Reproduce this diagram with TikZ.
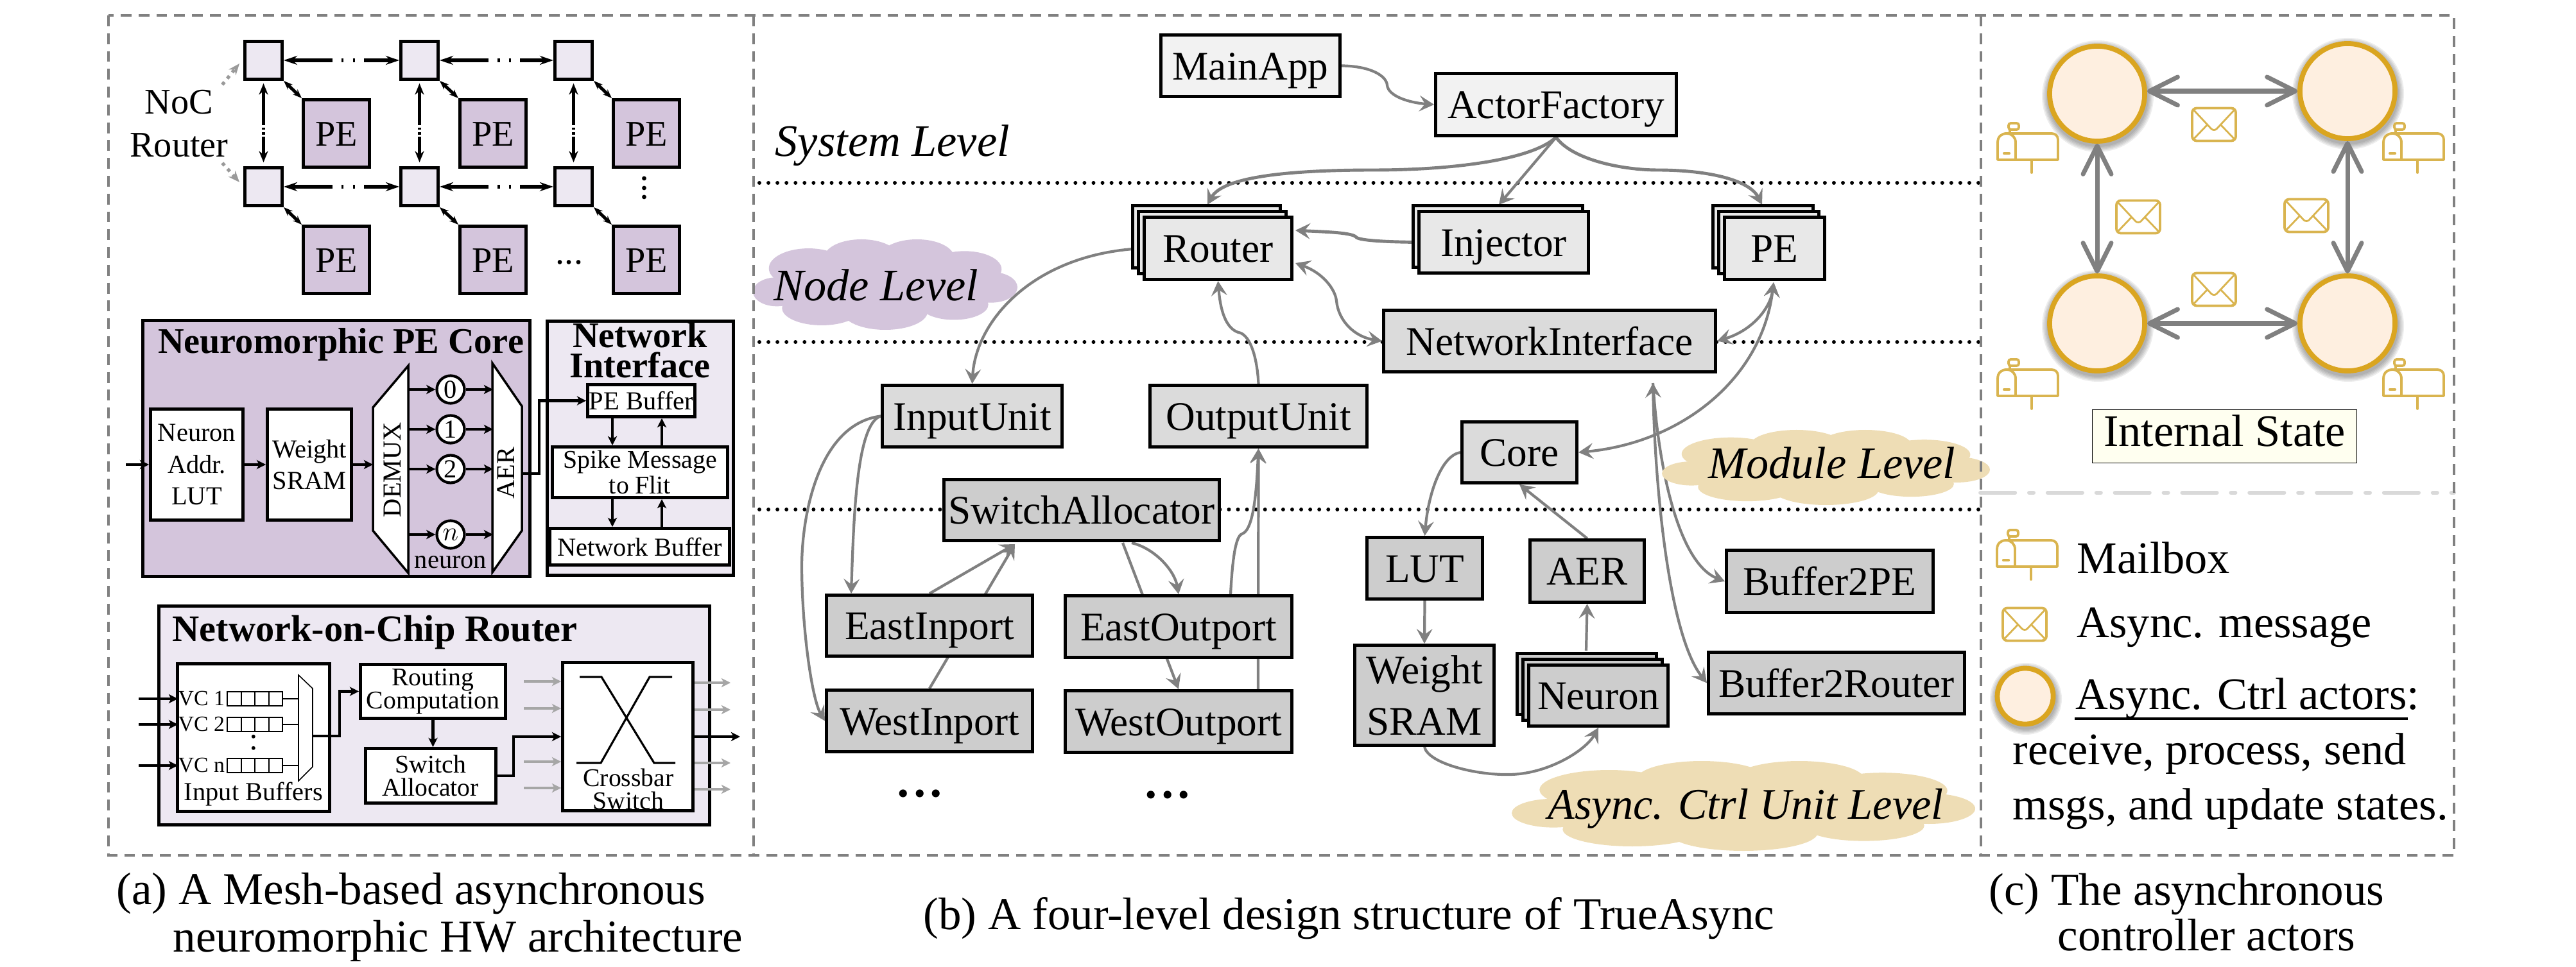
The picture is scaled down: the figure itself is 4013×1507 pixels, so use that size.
\documentclass[tikz,border=0pt]{standalone}
\usepackage{fontspec}
\setmainfont{Liberation Serif}
\usetikzlibrary{arrows.meta,calc,shadows}
\definecolor{pePurple}{HTML}{D4C5DC}
\definecolor{lightPurple}{HTML}{EDE8F2}
\definecolor{sysGray}{HTML}{F2F2F2}
\definecolor{nodeGray}{HTML}{E8E8E8}
\definecolor{modGray}{HTML}{DBDBDB}
\definecolor{unitGray}{HTML}{CDCDCD}
\definecolor{flowGray}{HTML}{808080}
\definecolor{cloudTan}{HTML}{EEDDB5}
\definecolor{actorGold}{HTML}{DAA520}
\definecolor{actorFill}{HTML}{FEEFE0}
\definecolor{iconGold}{HTML}{D9B44F}
\definecolor{stateFill}{HTML}{FFFFF0}
\pgfdeclarelayer{backdrop}
\pgfsetlayers{backdrop,main}
\tikzset{
  spot/.style args={#1,#2,#3,#4}{at={({(#1+#3)/2},{(#2+#4)/2})},minimum width={(#3-#1-5)*.01cm},minimum height={(#4-#2-5)*.01cm}},
  txtA/.style={font=\fontsize{11.5pt}{14pt}\selectfont,inner sep=0pt},
  txtS/.style={font=\fontsize{11.3pt}{10.2pt}\selectfont,inner sep=0pt},
  txtB/.style={font=\fontsize{16pt}{19pt}\selectfont,inner sep=0pt},
  txtC/.style={font=\fontsize{18pt}{22.8pt}\selectfont,inner sep=0pt},
  txtD/.style={font=\fontsize{20pt}{24pt}\selectfont,inner sep=0pt},
  txtE/.style={font=\fontsize{20pt}{24pt}\selectfont\itshape,inner sep=0pt,anchor=base west},
  txtF/.style={font=\fontsize{20.2pt}{24pt}\selectfont,inner sep=0pt,anchor=base west},
  oneline/.style={text height=#1,text depth=0pt},
  oneline/.default=12.4pt,
  archbox/.style={draw=black,line width=1.4pt,inner sep=0pt,align=center},
  levelbox/.style={archbox,txtC,oneline},
  twobox/.style={copy shadow={shadow xshift=-2.6pt,shadow yshift=2.6pt,draw=black,line width=1.4pt,fill=nodeGray}},
  threebox/.style={double copy shadow={shadow xshift=-2.6pt,shadow yshift=2.6pt,draw=black,line width=1.4pt,fill=#1}},
  busarrow/.style={line width=1.6pt,{Stealth[length=6pt,width=4pt]}-{Stealth[length=6pt,width=4pt]},dash pattern=on 18pt off 4pt on 1pt off 4pt on 1pt off 4pt},
  busvert/.style={line width=1.5pt,{Stealth[length=5pt,width=4pt]}-{Stealth[length=5pt,width=4pt]},dash pattern=on 15.5pt off 1pt on 1pt off 1.2pt on 1pt off 1pt},
  linkarrow/.style={line width=1.4pt,{Stealth[length=4pt,width=3pt]}-{Stealth[length=4pt,width=3pt]}},
  blackarrow/.style={line width=1.2pt,-{Stealth[length=4pt,width=4pt,inset=1pt]}},
  grayarrow/.style={draw=black!35,line width=1.1pt,-{Stealth[length=4pt,width=4pt,inset=1pt]}},
  flowarrow/.style={draw=flowGray,line width=1.2pt,-{Stealth[length=6.5pt,width=7pt,inset=2.5pt]}},
  flowboth/.style={draw=flowGray,line width=1.2pt,{Stealth[length=6.5pt,width=7pt,inset=2.5pt]}-{Stealth[length=6.5pt,width=7pt,inset=2.5pt]}},
  levelline/.style={line width=1.7pt,line cap=round,dash pattern=on 0pt off 4pt},
  panelframe/.style={draw=flowGray,line width=1pt,dash pattern=on 4.8pt off 3.1pt},
  actor/.style={circle,draw=actorGold,fill=actorFill,line width=2.2pt,inner sep=0pt,minimum size=1.48cm},
  msgarrow/.style={draw=flowGray,line width=2pt,{Straight Barb[length=12.5pt,width=12.5pt,round]}-{Straight Barb[length=12.5pt,width=12.5pt,round]}},
  iconline/.style={draw=iconGold,line width=1.1pt},
  mailbox/.pic={
    \draw[iconline,line join=round] (0,57) -- (0,30) .. controls (0,21) and (6,16) .. (14,16) -- (84,16) .. controls (90,16) and (94,20) .. (94,26) -- (94,57) -- cycle;
    \draw[iconline] (28,57) -- (28,30) .. controls (28,22) and (22,16) .. (14,16);
    \draw[iconline,line cap=round] (53,57) -- (53,77);
    \draw[iconline,rounded corners=1pt] (17,0) rectangle (33,10);
    \draw[iconline] (19,10) -- (19,16);
    \draw[iconline,line width=1.2pt,line cap=round] (10,47) -- (18,47);
  },
  mailenv/.pic={
    \draw[iconline,rounded corners=2pt] (-34,-25.5) rectangle (34,25.5);
    \draw[iconline,line width=.8pt] (-33,-24) -- (-4,7) .. controls (-2,9) and (2,9) .. (4,7) -- (33,-24);
    \draw[iconline,line width=.8pt] (-33,24) -- (-10,0);
    \draw[iconline,line width=.8pt] (33,24) -- (10,0);
  },
}
% puffs of a level cloud: colour, left, top, width, height
\newcommand{\levelcloud}[5]{
  \foreach \cx/\cy/\rx/\ry in {.5/.5/.42/.35,.21/.32/.15/.22,.41/.2/.14/.2,.62/.2/.14/.2,.8/.33/.14/.2,.9/.53/.1/.17,.76/.72/.13/.17,.5/.8/.16/.2,.26/.76/.15/.19,.09/.58/.09/.16}
    \fill[#1] ({#2+\cx*#4},{#3+\cy*#5}) ellipse [x radius={\rx*#4*.01cm},y radius={\ry*#5*.01cm}];
}

\begin{document}
\begin{tikzpicture}[x=.01cm,y=-.01cm]
\useasboundingbox (0,0) rectangle (4013,1507);

% ---- mesh of routers and PEs
\node[txtB,align=center] (NocLabel) at (279,193) {NoC\\Router};
\foreach \c/\rx/\px in {1/379/470,2/622/714,3/862/953}{
  \foreach \r/\ry/\py in {1/62/153,2/259/350}{
    \node[archbox,fill=lightPurple,spot={\rx,\ry,\rx+63,\ry+64}] (R\c\r) {};
    \node[archbox,txtB,oneline=11pt,fill=pePurple,spot={\px,\py,\px+108,\py+110}] (PE\c\r) {PE};
    \draw[linkarrow] (R\c\r.south east) -- (PE\c\r.north west);
  }
  \draw[busvert] (R\c1.south) ++(0,4) -- ($(R\c2.north)+(0,-6)$);
}
\foreach \r in {1,2}{
  \draw[busarrow] (R1\r.east) -- (R1\r.east -| R2\r.west);
  \draw[busarrow] (R2\r.east) -- (R2\r.east -| R3\r.west);
}
\draw[flowGray!80,line width=1.5pt,dotted,-{Stealth[length=5pt,width=4pt]}] (NocLabel.north east) ++(-10,-8) coordinate (nocA) -- ($(R11.west)+(-6,5)$);
\draw[flowGray!80,line width=1.5pt,dotted,-{Stealth[length=5pt,width=4pt]}] (NocLabel.south east) ++(-10,8) coordinate (nocB) -- ($(R12.west)+(-6,-7)$);
\node[txtB,rotate=90] (VDots) at (1004,293) {...};
\node[txtB] (HDots) at (887,409) {...};

% ---- neuromorphic PE core
\node[archbox,fill=pePurple,spot={220,497,828,901}] (CoreBox) {};
\node[font=\fontsize{16pt}{19pt}\selectfont\bfseries,inner sep=0pt] (CoreTitle) at (531,537) {Neuromorphic PE Core};
\node[archbox,txtA,fill=white,spot={232,635,381,813}] (NeuronLUT) {Neuron\\Addr.\\LUT};
\node[archbox,txtA,fill=white,spot={414,635,550,813}] (WeightBox) {Weight\\SRAM};
\draw[line width=1pt,fill=white] (581,635) -- (636,570) -- (636,893) -- (581,827) -- cycle;
\node[txtA,rotate=90] (DemuxLabel) at (611,732) {DEMUX};
\draw[line width=1pt,fill=white] (767,566) -- (813,633) -- (813,827) -- (767,892) -- cycle;
\node[txtA,rotate=90] (AerLabel) at (788,737) {AER};
\foreach \k/\y/\lbl in {0/607/0,1/669/1,2/731/2,n/833/$n$}{
  \node[circle,draw=black,line width=1.2pt,fill=white,txtA,inner sep=0pt,minimum size=.43cm] (N\k) at (702,\y) {\lbl};
  \coordinate (Dm\k) at (636,\y);
  \coordinate (Ae\k) at (768,\y);
  \draw[blackarrow] (Dm\k) -- (N\k);
  \draw[blackarrow] (N\k) -- (Ae\k);
}
\node[txtA] (NeuronLabel) at (702,876) {neuron};
\coordinate (CoreIn) at (196,724);
\coordinate (DemuxIn) at (581,724);
\coordinate (AerOut) at (813,738);
\draw[blackarrow] (CoreIn) -- (NeuronLUT);
\draw[blackarrow] (NeuronLUT) -- (WeightBox);
\draw[blackarrow] (WeightBox) -- (DemuxIn);

% ---- network interface
\node[archbox,fill=lightPurple,spot={850,498,1145,899}] (NiBox) {};
\node[font=\fontsize{16pt}{13.4pt}\selectfont\bfseries,inner sep=0pt,align=center] (NiTitle) at (997,546) {Network\\Interface};
\node[archbox,txtA,oneline=8pt,fill=white,spot={913,597,1085,652}] (PEBuffer) {PE Buffer};
\node[archbox,txtS,fill=white,spot={858,694,1136,778}] (SpikeBox) {Spike Message\\to Flit};
\node[archbox,txtA,oneline=8pt,fill=white,spot={854,821,1139,883}] (NetBuffer) {Network Buffer};
\draw[blackarrow] (AerOut) -- (840,738) |- (PEBuffer.west);
\draw[blackarrow] (PEBuffer.south -| 954,0) -- (SpikeBox.north -| 954,0);
\draw[blackarrow] (SpikeBox.north -| 1031,0) -- (PEBuffer.south -| 1031,0);
\draw[blackarrow] (SpikeBox.south -| 954,0) -- (NetBuffer.north -| 954,0);
\draw[blackarrow] (NetBuffer.north -| 1031,0) -- (SpikeBox.south -| 1031,0);

% ---- NoC router
\node[archbox,fill=lightPurple,spot={245,942,1108,1288}] (NocBox) {};
\node[font=\fontsize{16.6pt}{19pt}\selectfont\bfseries,inner sep=0pt] (NocTitle) at (584,985) {Network-on-Chip Router};
\node[archbox,fill=white,spot={274,1032,516,1267}] (InputBox) {};
\foreach \k/\y/\lbl in {1/1078/VC 1,2/1118/VC 2,3/1182/VC n}{
  \node[font=\fontsize{9.6pt}{11pt}\selectfont,inner sep=0pt,anchor=west] (VC\k) at (277,\y+11) {\lbl};
  \coordinate (VCin\k) at (216,\y+11);
  \draw[blackarrow] (VCin\k) -- (VC\k.west);
  \draw[line width=.45pt] (354,\y) rectangle (440,\y+22);
  \foreach \t in {376,397,419} \draw[line width=.45pt] (\t,\y) -- (\t,\y+22);
  \draw[line width=.45pt] (440,\y+11) -- (465,\y+11);
}
\node[font=\fontsize{14pt}{16pt}\selectfont,inner sep=0pt] (VcDots) at (395,1157) {:};
\draw[line width=.45pt,fill=white] (465,1052) -- (487,1073) -- (487,1195) -- (465,1217) -- cycle;
\coordinate (MuxOut) at (487,1147);
\node[txtA] (InputLabel) at (395,1238) {Input Buffers};
\node[archbox,txtS,fill=white,spot={559,1033,790,1122}] (Routing) {Routing\\Computation};
\node[archbox,txtS,fill=white,spot={567,1164,775,1254}] (Switch) {Switch\\Allocator};
\node[archbox,fill=white,spot={874,1030,1082,1266}] (Crossbar) {};
\draw[line width=.9pt] (903,1055) -- (937,1055) -- (1019,1189) -- (1052,1189);
\draw[line width=.9pt] (1047,1055) -- (1012,1055) -- (936,1189) -- (898,1189);
\node[txtS,align=center] (CrossbarLabel) at (979,1230) {Crossbar\\Switch};
\draw[blackarrow] (MuxOut) -- (529,1147) |- (Routing.west);
\draw[blackarrow] (Routing.south) -- (Switch.north -| Routing.south);
\draw[blackarrow] (Switch.east) -- ++(25,0) |- (Crossbar.west);
\foreach \k/\y in {1/1062,2/1104,3/1187,4/1228}{
  \coordinate (XbIn\k) at (816,\y);
  \coordinate (XbOut\k) at (1138,\y+2);
  \draw[grayarrow] (XbIn\k) -- (XbIn\k -| Crossbar.west);
  \draw[grayarrow] (XbOut\k -| Crossbar.east) -- (XbOut\k);
}
\coordinate (XbOut) at (1153,1148);
\draw[blackarrow] (Crossbar.east) -- (XbOut);

% ---- level separators and clouds
\begin{pgfonlayer}{backdrop}
\foreach \y in {285,533,794} \draw[levelline] (1183,\y) -- (3083,\y);
\end{pgfonlayer}
\levelcloud{pePurple}{1173}{373}{412}{141}
\levelcloud{cloudTan}{2589}{670}{511}{117}
\levelcloud{cloudTan}{2355}{1186}{722}{140}
\node[txtE] (SysLevel) at (1207,244) {System Level};
\node[txtE] (NodeLevel) at (1205,469) {Node Level};
\node[txtE] (ModLevel) at (2661,746) {Module Level};
\node[txtE,font=\fontsize{19.4pt}{24pt}\selectfont\itshape] (UnitLevel) at (2411,1276) {Async. Ctrl Unit Level};

% ---- system and node level
\node[levelbox,fill=sysGray,spot={1806,52,2090,153}] (MainApp) {MainApp};
\node[levelbox,fill=sysGray,spot={2234,112,2614,214}] (ActorFactory) {ActorFactory};
\node[levelbox,fill=nodeGray,threebox=nodeGray,spot={1780,336,2015,438}] (Router) {Router};
\node[levelbox,fill=nodeGray,twobox,spot={2208,327,2477,428}] (Injector) {Injector};
\node[levelbox,fill=nodeGray,threebox=nodeGray,spot={2684,336,2845,438}] (PEStack) {PE};
\node[levelbox,fill=modGray,spot={2153,481,2675,582}] (NetIf) {NetworkInterface};

% ---- module level
\node[levelbox,fill=modGray,spot={1372,598,1657,699}] (InputUnit) {InputUnit};
\node[levelbox,fill=modGray,spot={1789,598,2132,699}] (OutputUnit) {OutputUnit};
\node[levelbox,fill=modGray,spot={2275,655,2459,755}] (CoreNode) {Core};

% ---- unit level
\node[levelbox,fill=unitGray,spot={1468,745,1902,845}] (SwitchAlloc) {SwitchAllocator};
\node[levelbox,fill=unitGray,spot={1285,925,1611,1025}] (EastIn) {EastInport};
\node[levelbox,fill=unitGray,spot={1285,1073,1611,1174}] (WestIn) {WestInport};
\node[levelbox,fill=unitGray,spot={1657,926,2015,1027}] (EastOut) {EastOutport};
\node[levelbox,fill=unitGray,spot={1657,1074,2015,1175}] (WestOut) {WestOutport};
\node[levelbox,fill=unitGray,spot={2127,835,2312,936}] (LUT) {LUT};
\node[levelbox,fill=unitGray,spot={2381,839,2564,941}] (AER) {AER};
\node[archbox,txtC,fill=unitGray,spot={2108,1003,2330,1164}] (SRAM) {Weight\\SRAM};
\node[levelbox,fill=unitGray,threebox=unitGray,spot={2379,1034,2601,1134}] (Neuron) {Neuron};
\node[levelbox,fill=unitGray,spot={2687,855,3014,957}] (BufferPE) {Buffer2PE};
\node[levelbox,fill=unitGray,spot={2659,1014,3063,1115}] (BufferRouter) {Buffer2Router};
\node[font=\fontsize{29pt}{30pt}\selectfont,inner sep=0pt] (DotsA) at (1433,1237) {...};
\node[font=\fontsize{29pt}{30pt}\selectfont,inner sep=0pt] (DotsB) at (1819,1239) {...};

% ---- connectors, behind the boxes
\coordinate (RouterTop) at (1881,319);
\coordinate (InjTop) at (2335,319);
\coordinate (PETop) at (2745,319);
\coordinate (RouterInA) at (2018,359);
\coordinate (RouterInB) at (2018,410);
\coordinate (PEBottom) at (2763,440);
\coordinate (NetIfBelow) at (2575,597);
\coordinate (EastOutTop) at (1917,926);
\coordinate (SwitchIn) at (1581,848);
\coordinate (SwitchOutA) at (1763,846);
\coordinate (SwitchOutB) at (1749,846);
\coordinate (WestOutTop) at (1960,1074);
\coordinate (NeuronTop) at (2471,1014);
\begin{pgfonlayer}{backdrop}
\draw[flowarrow] (MainApp.east) .. controls (2135,103) and (2160,118) .. (2161,133) .. controls (2163,150) and (2195,160) .. (ActorFactory.west);
\draw[flowarrow,line width=1.4pt] (ActorFactory.south) .. controls (2385,250) and (2260,265) .. (2140,265) .. controls (2010,265) and (1905,275) .. (RouterTop);
\draw[flowarrow] (ActorFactory.south) -- (InjTop);
\draw[flowarrow,line width=1.4pt] (ActorFactory.south) .. controls (2450,250) and (2530,265) .. (2582,265) .. controls (2660,265) and (2725,280) .. (PETop);
\draw[flowarrow,line width=1.4pt] (Injector.west) .. controls (2160,377) and (2115,375) .. (2112,369) .. controls (2105,362) and (2055,361) .. (RouterInA);
\draw[flowboth] (RouterInB) .. controls (2060,425) and (2080,450) .. (2082,469) .. controls (2085,500) and (2110,525) .. (NetIf.west);
\draw[flowboth] (PEBottom) .. controls (2758,480) and (2730,515) .. (NetIf.east);
\draw[flowboth] (PEBottom) .. controls (2745,590) and (2620,690) .. (CoreNode.east);
\draw[flowboth] (NetIfBelow) .. controls (2578,760) and (2600,990) .. (BufferRouter.west);
\draw[flowarrow] (NetIfBelow) .. controls (2585,750) and (2620,880) .. (BufferPE.west);
\draw[flowarrow] (Router.west) .. controls (1610,395) and (1520,500) .. (InputUnit.north);
\draw[flowarrow] (OutputUnit.north) .. controls (1958,550) and (1945,520) .. (1929,518) .. controls (1905,510) and (1900,470) .. (Router.south);
\draw[flowarrow] (InputUnit.west) .. controls (1335,660) and (1330,800) .. (EastIn.north -| 1326,0);
\draw[flowarrow] (InputUnit.west) .. controls (1280,660) and (1250,790) .. (1249,880) .. controls (1249,980) and (1265,1090) .. (WestIn.west);
\draw[flowarrow] (EastIn.north) -- (SwitchIn);
\draw[flowarrow] (WestIn.north) -- (SwitchIn);
\draw[flowarrow] (SwitchOutA) .. controls (1800,855) and (1830,890) .. (EastOut.north);
\draw[flowarrow] (SwitchOutB) -- (WestOut.north);
\draw[flowarrow] (EastOutTop) .. controls (1920,870) and (1925,835) .. (1935,832) .. controls (1955,825) and (1958,750) .. (OutputUnit.south);
\draw[flowarrow] (WestOutTop) -- (OutputUnit.south);
\draw[flowarrow] (CoreNode.west) .. controls (2245,710) and (2225,770) .. (LUT.north);
\draw[flowarrow] (AER.north) -- (CoreNode.south);
\draw[flowarrow] (LUT.south) -- (SRAM.north);
\draw[flowarrow] (NeuronTop) -- (AER.south);
\draw[flowarrow] (SRAM.south) .. controls (2225,1190) and (2300,1208) .. (2350,1207) .. controls (2410,1207) and (2470,1170) .. (Neuron.south);
\end{pgfonlayer}

% ---- actors
\node[actor] (TL) at (3267,146) {};
\node[actor] (TR) at (3657,142) {};
\node[actor] (BL) at (3267,504) {};
\node[actor] (BR) at (3657,504) {};
\node[actor,minimum size=.87cm] (LegendActor) at (3155,1085) {};
\begin{pgfonlayer}{backdrop}
\foreach \a/\s in {TL/78,TR/78,BL/78,BR/78,LegendActor/47}
  \foreach \r in {1,3,5,7,9}
    \fill[black,opacity=.07] (\a) ++(1,4) circle [radius={(\s+\r)*.01cm}];
\end{pgfonlayer}
\draw[msgarrow] (TL.east |- TR.west) -- (TR.west);
\draw[msgarrow] (TL.south) -- (BL.north);
\draw[msgarrow] (TR.south) -- (BR.north);
\draw[msgarrow] (BL.east) -- (BR.west);
\foreach \x/\y in {3449/194,3331/338,3593/336,3449/451,3154/973} \path (\x,\y) pic {mailenv};
\foreach \x/\y in {3112/192,3713/192,3112/560,3713/560,3111/826} \path (\x,\y) pic {mailbox};
\node[draw=black,line width=.4pt,fill=stateFill,txtD,text height=13.2pt,text depth=4.4pt,spot={3257,636,3674,724}] (StateBox) {Internal State};

% ---- legend
\draw[black!15,line width=1.7pt,line cap=round,dash pattern=on 15.4pt off 6.2pt on 2pt off 6.2pt] (3085,768) -- (3823,768);
\node[txtF,font=\fontsize{20pt}{24pt}\selectfont] (LegMail) at (3235,893) {Mailbox};
\node[txtF,font=\fontsize{20pt}{24pt}\selectfont] (LegMsg) at (3235,993) {Async. message};
\node[txtF,font=\fontsize{20pt}{24pt}\selectfont] (LegActor) at (3233,1105) {Async. Ctrl actors:};
\draw[line width=1.2pt] (LegActor.base west) ++(-1,15) -- ++(519,0);
\node[txtF,font=\fontsize{20pt}{24pt}\selectfont] (LegLineA) at (3135,1191) {receive, process, send};
\node[txtF,font=\fontsize{20pt}{24pt}\selectfont] (LegLineB) at (3135,1277) {msgs, and update states.};

% ---- panel frames and captions
\draw[panelframe] (169,24) rectangle (3823,1333);
\draw[panelframe] (1174,24) -- (1174,1333);
\draw[panelframe] (3086,24) -- (3086,1333);
\node[txtF] (CapA) at (181,1409) {(a) A Mesh-based asynchronous};
\node[txtF] (CapAb) at (269,1483) {neuromorphic HW architecture};
\node[txtF] (CapB) at (1438,1448) {(b) A four-level design structure of TrueAsync};
\node[txtF] (CapC) at (3098,1410) {(c) The asynchronous};
\node[txtF] (CapCb) at (3205,1481) {controller actors};
\end{tikzpicture}
\end{document}
